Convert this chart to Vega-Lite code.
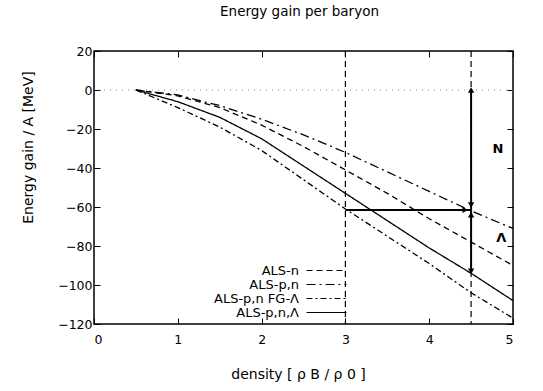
{
  "$schema": "https://vega.github.io/schema/vega-lite/v6.json",
  "autosize": {"type": "none"},
  "padding": {"left": 94, "top": 51, "right": 30, "bottom": 67},
  "width": 419,
  "height": 273,
  "title": {"text": "Energy gain per baryon", "fontSize": 13.5, "font": "DejaVu Sans", "fontWeight": "normal", "offset": 27, "anchor": "middle", "dx": -4, "color": "black"},
  "config": {
    "view": {"stroke": "black", "strokeWidth": 1.5},
    "font": "DejaVu Sans",
    "axis": {"grid": false, "domain": false, "tickColor": "black", "tickSize": -6, "tickWidth": 1, "labelColor": "black", "labelFontSize": 12.5, "labelFont": "DejaVu Sans", "titleColor": "black", "titleFont": "DejaVu Sans", "titleFontWeight": "normal", "titleFontSize": 14, "labelPadding": 8}
  },
  "datasets": {
    "curves": [
      {"series": "ALS-n", "x": 0.5, "y": 0}, {"series": "ALS-n", "x": 1, "y": -3}, {"series": "ALS-n", "x": 1.5, "y": -9}, {"series": "ALS-n", "x": 2, "y": -18}, {"series": "ALS-n", "x": 2.5, "y": -29}, {"series": "ALS-n", "x": 3, "y": -41}, {"series": "ALS-n", "x": 3.5, "y": -53}, {"series": "ALS-n", "x": 4, "y": -66}, {"series": "ALS-n", "x": 4.5, "y": -78}, {"series": "ALS-n", "x": 5, "y": -90},
      {"series": "ALS-p,n", "x": 0.5, "y": 0}, {"series": "ALS-p,n", "x": 1, "y": -2.5}, {"series": "ALS-p,n", "x": 1.5, "y": -8}, {"series": "ALS-p,n", "x": 2, "y": -15}, {"series": "ALS-p,n", "x": 2.5, "y": -23}, {"series": "ALS-p,n", "x": 3, "y": -32}, {"series": "ALS-p,n", "x": 3.5, "y": -42}, {"series": "ALS-p,n", "x": 4, "y": -52}, {"series": "ALS-p,n", "x": 4.5, "y": -62}, {"series": "ALS-p,n", "x": 5, "y": -71},
      {"series": "ALS-p,n FG-Λ", "x": 0.5, "y": 0}, {"series": "ALS-p,n FG-Λ", "x": 1, "y": -9}, {"series": "ALS-p,n FG-Λ", "x": 1.5, "y": -19}, {"series": "ALS-p,n FG-Λ", "x": 2, "y": -31}, {"series": "ALS-p,n FG-Λ", "x": 2.5, "y": -46}, {"series": "ALS-p,n FG-Λ", "x": 3, "y": -61}, {"series": "ALS-p,n FG-Λ", "x": 3.5, "y": -75}, {"series": "ALS-p,n FG-Λ", "x": 4, "y": -89}, {"series": "ALS-p,n FG-Λ", "x": 4.5, "y": -104}, {"series": "ALS-p,n FG-Λ", "x": 5, "y": -117},
      {"series": "ALS-p,n,Λ", "x": 0.5, "y": 0}, {"series": "ALS-p,n,Λ", "x": 1, "y": -6}, {"series": "ALS-p,n,Λ", "x": 1.5, "y": -14}, {"series": "ALS-p,n,Λ", "x": 2, "y": -25}, {"series": "ALS-p,n,Λ", "x": 2.5, "y": -39}, {"series": "ALS-p,n,Λ", "x": 3, "y": -53}, {"series": "ALS-p,n,Λ", "x": 3.5, "y": -67}, {"series": "ALS-p,n,Λ", "x": 4, "y": -81}, {"series": "ALS-p,n,Λ", "x": 4.5, "y": -94}, {"series": "ALS-p,n,Λ", "x": 5, "y": -108}
    ],
    "vlines": [{"x": 3}, {"x": 4.5}],
    "zero": [{"y": 0}],
    "arrows": [
      {"x": 4.5, "y": -61.5, "x2": 4.5, "y2": 0},
      {"x": 4.5, "y": -61.5, "x2": 4.5, "y2": -94},
      {"x": 3, "y": -61.5, "x2": 4.5, "y2": -61.5}
    ],
    "heads": [
      {"x": 4.5, "y": 0, "shape": "triangle-up"},
      {"x": 4.5, "y": -59, "shape": "triangle-down"},
      {"x": 4.5, "y": -64, "shape": "triangle-up"},
      {"x": 4.5, "y": -93, "shape": "triangle-down"},
      {"x": 4.43, "y": -61.5, "shape": "triangle-right"}
    ],
    "labels": [
      {"x": 4.82, "y": -30, "text": "N"},
      {"x": 4.86, "y": -76, "text": "Λ"}
    ]
  },
  "layer": [
    {
      "data": {"name": "zero"},
      "mark": {"type": "rule", "color": "#888888", "strokeDash": [1, 5], "strokeWidth": 1},
      "encoding": {"y": {"field": "y", "type": "quantitative", "scale": {"domain": [-120, 20], "nice": false}, "axis": null}}
    },
    {
      "data": {"name": "vlines"},
      "mark": {"type": "rule", "color": "black", "strokeDash": [6, 4], "strokeWidth": 1.2},
      "encoding": {"x": {"field": "x", "type": "quantitative", "scale": {"domain": [0, 5], "nice": false}, "axis": null}}
    },
    {
      "data": {"name": "curves"},
      "mark": {"type": "line", "color": "black", "strokeWidth": 1.3},
      "encoding": {
        "x": {"field": "x", "type": "quantitative", "scale": {"domain": [0, 5], "nice": false}, "axis": {"orient": "bottom", "values": [0, 1, 2, 3, 4, 5], "labelPadding": 15, "title": "density [ ρ B / ρ 0 ]", "titleX": 204, "titleY": 50, "titleBaseline": "middle", "titleAlign": "center"}},
        "y": {"field": "y", "type": "quantitative", "scale": {"domain": [-120, 20], "nice": false}, "axis": {"orient": "left", "values": [-120, -100, -80, -60, -40, -20, 0, 20], "title": "Energy gain / A [MeV]", "titleX": -66, "titleY": 96, "titleBaseline": "middle", "titleAlign": "center", "titleAngle": -90}},
        "strokeDash": {
          "field": "series", "type": "nominal",
          "scale": {"domain": ["ALS-n", "ALS-p,n", "ALS-p,n FG-Λ", "ALS-p,n,Λ"], "range": [[6, 4], [9, 4, 2, 4], [6, 3, 2, 3], [1, 0]]},
          "legend": {"orient": "none", "legendX": 226, "legendY": 213, "padding": 0, "title": null, "symbolType": "M-4,0L4,0", "symbolSize": 100, "symbolStrokeColor": "black", "symbolStrokeWidth": 1.2, "labelAlign": "right", "labelOffset": -34, "labelFontSize": 13, "labelFont": "DejaVu Sans", "labelColor": "black", "rowPadding": 0,
            "labelExpr": "datum.label == 'ALS-n' ? '             ALS-n' : datum.label == 'ALS-p,n' ? '          ALS-p,n' : datum.label == 'ALS-p,n,Λ' ? '       ALS-p,n,Λ' : datum.label"}
        }
      }
    },
    {
      "data": {"name": "arrows"},
      "mark": {"type": "rule", "color": "black", "strokeWidth": 2},
      "encoding": {
        "x": {"field": "x", "type": "quantitative", "scale": {"domain": [0, 5], "nice": false}, "axis": null},
        "y": {"field": "y", "type": "quantitative", "scale": {"domain": [-120, 20], "nice": false}, "axis": null},
        "x2": {"field": "x2"},
        "y2": {"field": "y2"}
      }
    },
    {
      "data": {"name": "heads"},
      "mark": {"type": "point", "filled": true, "color": "black", "size": 40, "opacity": 1},
      "encoding": {
        "x": {"field": "x", "type": "quantitative", "scale": {"domain": [0, 5], "nice": false}, "axis": {"orient": "top", "labels": false, "title": null, "values": [0, 1, 2, 3, 4, 5]}},
        "y": {"field": "y", "type": "quantitative", "scale": {"domain": [-120, 20], "nice": false}, "axis": {"orient": "right", "labels": false, "title": null, "values": [-120, -100, -80, -60, -40, -20, 0, 20]}},
        "shape": {"field": "shape", "type": "nominal", "scale": null}
      }
    },
    {
      "data": {"name": "labels"},
      "mark": {"type": "text", "color": "black", "fontSize": 13, "fontWeight": "bold", "font": "DejaVu Sans"},
      "encoding": {
        "x": {"field": "x", "type": "quantitative", "scale": {"domain": [0, 5], "nice": false}, "axis": null},
        "y": {"field": "y", "type": "quantitative", "scale": {"domain": [-120, 20], "nice": false}, "axis": null},
        "text": {"field": "text"}
      }
    }
  ]
}
